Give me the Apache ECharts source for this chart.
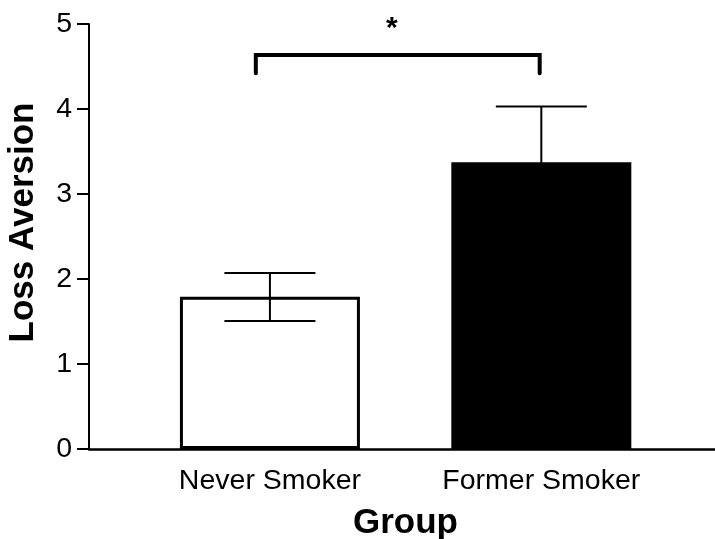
<!DOCTYPE html>
<html><head><meta charset="utf-8">
<script src="https://cdn.jsdelivr.net/npm/echarts@6/dist/echarts.min.js"></script>
<style>html,body{margin:0;padding:0;background:#fff}#c{width:715px;height:539px}</style>
</head><body><div id="c"></div>
<script>
// ---- data ----
const categories = ['Never Smoker', 'Former Smoker'];
const positions = [1, 2];
const means = [1.79, 3.375];
const errUpper = [0.28, 0.655];
const errLower = [0.285, 0.655];
const barColors = ['#ffffff', '#000000'];
const yTicks = [0, 1, 2, 3, 4, 5];
const bracketX = [0.948, 1.994];
const bracketY = [4.42, 4.635];
const sigLabel = '*';
const sigPos = [1.449, 5.12];
const xTitle = 'Group';
const yTitle = 'Loss Aversion';

// ---- chart ----
const FONT = '"Liberation Sans", Arial, Helvetica, sans-serif';
const chart = echarts.init(document.getElementById('c'), null, {renderer: 'canvas'});

const barData = positions.map((p, i) => ({
  value: [p, means[i]],
  itemStyle: {color: barColors[i], borderColor: '#000', borderWidth: 3}
}));
const errData = positions.map((p, i) => [p, means[i] - errLower[i], means[i] + errUpper[i]]);

chart.setOption({
  animation: false,
  backgroundColor: '#fff',
  grid: {left: 89, right: 0, top: 24, bottom: 90, outerBoundsMode: 'none', containLabel: false},
  xAxis: {
    type: 'value', min: 1 / 3, max: 2.64,
    name: xTitle, nameLocation: 'middle', nameGap: 57,
    nameTextStyle: {fontFamily: FONT, fontSize: 35, fontWeight: 'bold', color: '#000', padding: [0, 0, 0, 7]},
    axisLine: {show: true, onZero: false, lineStyle: {color: '#000', width: 2.5}},
    axisTick: {show: false},
    splitLine: {show: false},
    axisLabel: {
      customValues: positions,
      formatter: v => categories[positions.indexOf(Math.round(v))] || '',
      fontFamily: FONT, fontSize: 28.5, color: '#000', margin: 18
    }
  },
  yAxis: {
    type: 'value', min: yTicks[0], max: yTicks[yTicks.length - 1], interval: 1,
    name: yTitle, nameLocation: 'middle', nameGap: 48, nameRotate: 90,
    nameTextStyle: {fontFamily: FONT, fontSize: 35, fontWeight: 'bold', color: '#000', padding: [0, 0, 0, 28]},
    axisLine: {show: true, lineStyle: {color: '#000', width: 2}},
    axisTick: {show: true, length: 12, lineStyle: {color: '#000', width: 2}},
    splitLine: {show: false},
    axisLabel: {fontFamily: FONT, fontSize: 28.5, color: '#000', margin: 17}
  },
  series: [
    {
      type: 'bar', data: barData, barWidth: 180, z: 2
    },
    {
      type: 'custom', z: 3, data: errData,
      renderItem(params, api) {
        const x = api.value(0);
        const lo = api.coord([x, api.value(1)]);
        const hi = api.coord([x, api.value(2)]);
        const cap = 45.5;
        const st = {stroke: '#000', lineWidth: 2};
        return {type: 'group', children: [
          {type: 'line', shape: {x1: lo[0], y1: lo[1], x2: hi[0], y2: hi[1]}, style: st},
          {type: 'line', shape: {x1: hi[0] - cap, y1: hi[1], x2: hi[0] + cap, y2: hi[1]}, style: st},
          {type: 'line', shape: {x1: lo[0] - cap, y1: lo[1], x2: lo[0] + cap, y2: lo[1]}, style: st}
        ]};
      }
    },
    {
      type: 'custom', z: 4, data: [[bracketX[0], bracketX[1], bracketY[0], bracketY[1]]],
      renderItem(params, api) {
        const a = api.coord([api.value(0), api.value(2)]);
        const b = api.coord([api.value(0), api.value(3)]);
        const c = api.coord([api.value(1), api.value(3)]);
        const d = api.coord([api.value(1), api.value(2)]);
        return {type: 'polyline', shape: {points: [a, b, c, d]},
          style: {stroke: '#000', lineWidth: 4, fill: null, lineCap: 'round', lineJoin: 'miter'}};
      }
    },
    {
      type: 'custom', z: 4, data: [sigPos],
      renderItem(params, api) {
        const p = api.coord([api.value(0), api.value(1)]);
        return {type: 'text', x: p[0], y: p[1],
          style: {text: sigLabel, font: 'bold 30px ' + FONT, fill: '#000', textAlign: 'center', textVerticalAlign: 'top'}};
      }
    }
  ]
});
</script></body></html>
